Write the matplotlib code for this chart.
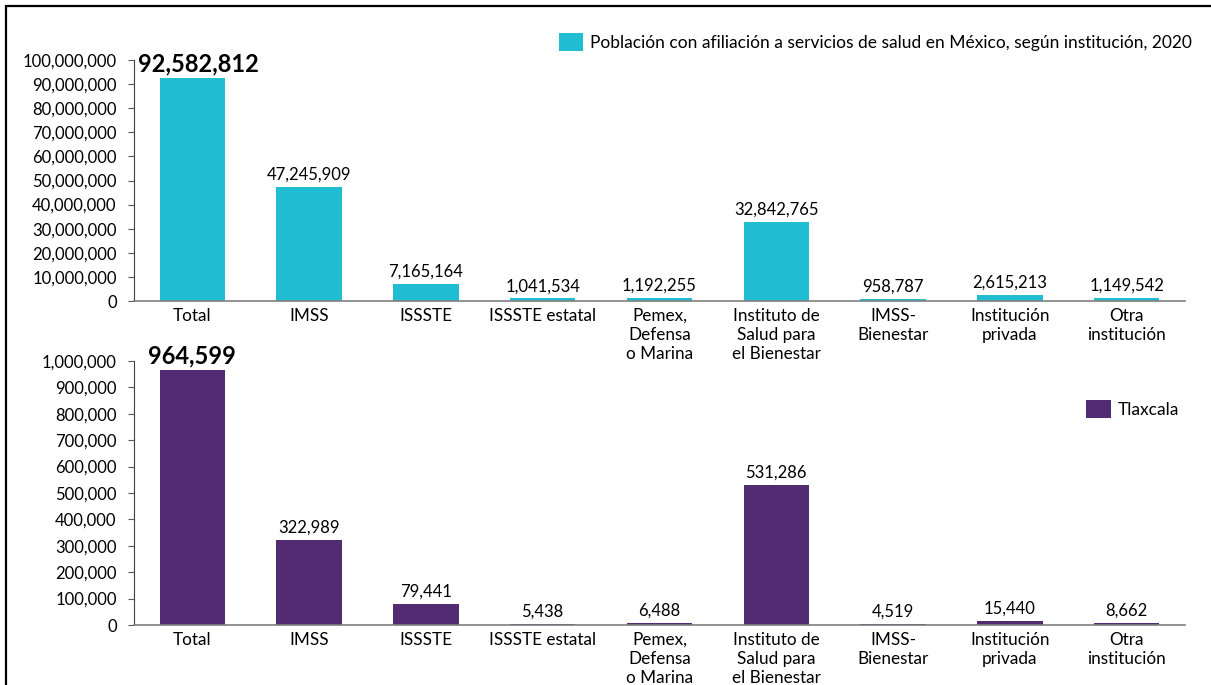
import matplotlib
matplotlib.use("Agg")
import matplotlib.pyplot as plt
from matplotlib.patches import Rectangle
from matplotlib.ticker import FuncFormatter, MultipleLocator

plt.rcParams['font.family'] = ['Lato', 'DejaVu Sans']

categories = ["Total", "IMSS", "ISSSTE", "ISSSTE estatal", "Pemex,\nDefensa\no Marina",
              "Instituto de\nSalud para\nel Bienestar", "IMSS-\nBienestar",
              "Institución\nprivada", "Otra\ninstitución"]
mexico = [92582812, 47245909, 7165164, 1041534, 1192255, 32842765, 958787, 2615213, 1149542]
tlaxcala = [964599, 322989, 79441, 5438, 6488, 531286, 4519, 15440, 8662]
label_mexico = "Población con afiliación a servicios de salud en México, según institución, 2020"
label_tlax = "Tlaxcala"

c_mex = "#21BDD3"
c_tlx = "#532B73"

W, H = 1211, 685
fig = plt.figure(figsize=(W / 100, H / 100), dpi=100)

# outer frame
fig.patches.append(Rectangle((6 / W, -0.1), 1.2, 1 - 6 / H + 0.1, transform=fig.transFigure,
                             fill=False, edgecolor="black", linewidth=1.6))

left = 134 / W
width = 1185 / W - left
ax1 = fig.add_axes([left, 1 - 301 / H, width, (301 - 60) / H])
ax2 = fig.add_axes([left, 1 - 625 / H, width, (625 - 361) / H])

fmt = FuncFormatter(lambda v, p: f"{int(v):,}")
x = list(range(len(categories)))


def draw(ax, vals, color, ymax, step, label, big_dx):
    bars = ax.bar(x, vals, width=0.56, color=color, label=label, zorder=2)
    ax.set_xlim(-0.5, len(categories) - 0.5)
    ax.set_ylim(0, ymax)
    ax.yaxis.set_major_locator(MultipleLocator(step))
    ax.yaxis.set_major_formatter(fmt)
    ax.set_xticks(x)
    ax.set_xticklabels(categories, fontsize=12.3, linespacing=1.23)
    ax.tick_params(axis='x', length=0, pad=5)
    ax.tick_params(axis='y', length=4.5, width=0.8, color="#595959", labelsize=12, pad=8)
    for s in ("top", "right"):
        ax.spines[s].set_visible(False)
    ax.spines["left"].set_color("#404040")
    ax.spines["bottom"].set_color("#7f7f7f")
    ax.spines["bottom"].set_linewidth(1.2)
    for i, (b, v) in enumerate(zip(bars, vals)):
        if i == 0:
            ax.annotate(f"{v:,}", (b.get_x() + b.get_width() / 2, v), xytext=(big_dx, 2),
                        textcoords="offset points", ha="center", va="bottom",
                        fontsize=17, fontweight="bold", clip_on=False)
        else:
            ax.annotate(f"{v:,}", (b.get_x() + b.get_width() / 2, v), xytext=(0, 3),
                        textcoords="offset points", ha="center", va="bottom",
                        fontsize=12)


draw(ax1, mexico, c_mex, 100_000_000, 10_000_000, label_mexico, 4.5)
draw(ax2, tlaxcala, c_tlx, 1_000_000, 100_000, label_tlax, 0)

ax1.legend(loc="center right", bbox_to_anchor=(1192 / W, 1 - 42 / H), bbox_transform=fig.transFigure,
           frameon=False, fontsize=12.5, handlelength=1.4, handleheight=1.2, handletextpad=0.4,
           borderpad=0, borderaxespad=0)
ax2.legend(loc="center right", bbox_to_anchor=(1179 / W, 1 - 409 / H), bbox_transform=fig.transFigure,
           frameon=False, fontsize=12.5, handlelength=1.4, handleheight=1.2, handletextpad=0.4,
           borderpad=0, borderaxespad=0)

fig.savefig("out.png", dpi=100)
